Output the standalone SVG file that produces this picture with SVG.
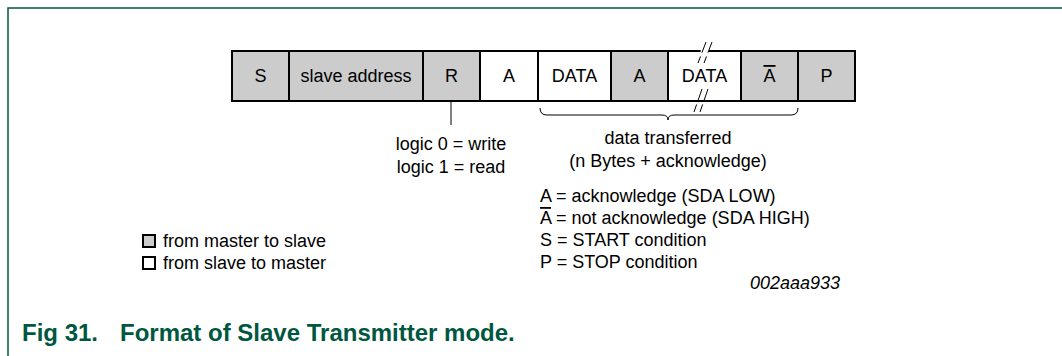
<svg xmlns="http://www.w3.org/2000/svg" width="1062" height="356" viewBox="0 0 1062 356">
<style>
.t{font-family:"Liberation Sans",Arial,sans-serif;font-size:18px;fill:#000}
.c{text-anchor:middle}
.g{fill:#cccccc;stroke:#000;stroke-width:2}
.w{fill:#ffffff;stroke:#000;stroke-width:2}
.ln{stroke:#000;stroke-width:1;fill:none}
.ov{text-decoration:overline}
</style>
<rect width="1062" height="356" fill="#fff"/>
<path d="M8,356 V8 H1062" fill="none" stroke="#00573f" stroke-width="1.5"/>
<g id="row">
<g id="n-S"><rect class="g" x="232" y="51" width="57" height="50"/><text class="t c" x="260.5" y="82">S</text></g>
<g id="n-addr"><rect class="g" x="289" y="51" width="134" height="50"/><text class="t c" x="356" y="82">slave address</text></g>
<g id="n-R"><rect class="g" x="423" y="51" width="57" height="50"/><text class="t c" x="451.5" y="82">R</text></g>
<g id="n-A1"><rect class="w" x="480" y="51" width="58" height="50"/><text class="t c" x="509" y="82">A</text></g>
<g id="n-DATA1"><rect class="w" x="538" y="51" width="73" height="50"/><text class="t c" x="574.5" y="82">DATA</text></g>
<g id="n-A2"><rect class="g" x="611" y="51" width="57" height="50"/><text class="t c" x="639.5" y="82">A</text></g>
<g id="n-DATA2"><rect class="w" x="668" y="51" width="73" height="50"/><text class="t c" x="704.5" y="82">DATA</text>
<polygon points="700,53 706,38 714,38 708,53" fill="#fff"/>
<polygon points="695,99 701,84 709,84 703,99" fill="#fff"/>
<polygon points="700,49 706,49 708,53 702,53" fill="#fff"/>
</g>
<g id="n-NA"><rect class="g" x="741" y="51" width="57" height="50"/><text class="t c" x="769.5" y="82"><tspan class="ov">A</tspan></text></g>
<g id="n-P"><rect class="g" x="798" y="51" width="57" height="50"/><text class="t c" x="826.5" y="82">P</text></g>
</g>
<g id="connectors">
<g class="ln">
<line x1="698" y1="63" x2="706" y2="42" stroke-dasharray="7,4,20"/>
<line x1="704" y1="63" x2="712" y2="42" stroke-dasharray="7,4,20"/>
<line x1="694" y1="112" x2="702" y2="89" stroke-dasharray="8,4,20"/>
<line x1="700" y1="112" x2="708" y2="89" stroke-dasharray="8,4,20"/>
</g>
<line class="ln" x1="451" y1="101" x2="451" y2="125"/>
<path class="ln" d="M540,108 Q540,115 547,115 L662,115 Q668,115 668,120 Q668,115 674,115 L791,115 Q798,115 798,108"/>
</g>
<g id="labels">
<text class="t c" x="451" y="150">logic 0 = write</text>
<text class="t c" x="451" y="173">logic 1 = read</text>
<text class="t c" x="668" y="144">data transferred</text>
<text class="t c" x="668" y="167">(n Bytes + acknowledge)</text>
<text class="t" x="540" y="202">A = acknowledge (SDA LOW)</text>
<text class="t" x="540" y="224"><tspan class="ov">A</tspan> = not acknowledge (SDA HIGH)</text>
<text class="t" x="540" y="246">S = START condition</text>
<text class="t" x="540" y="268">P = STOP condition</text>
<text class="t" x="840" y="289" text-anchor="end" font-style="italic" font-size="14">002aaa933</text>
</g>
<g id="legend">
<rect class="g" x="143" y="235" width="12" height="12"/>
<text class="t" x="163" y="247">from master to slave</text>
<rect class="w" x="143" y="257" width="12" height="12"/>
<text class="t" x="163" y="269">from slave to master</text>
</g>
<text x="22" y="341" font-family="'Liberation Sans',Arial,sans-serif" font-size="24" font-weight="bold" fill="#00573f">Fig 31.<tspan x="120">Format of Slave Transmitter mode.</tspan></text>
</svg>
